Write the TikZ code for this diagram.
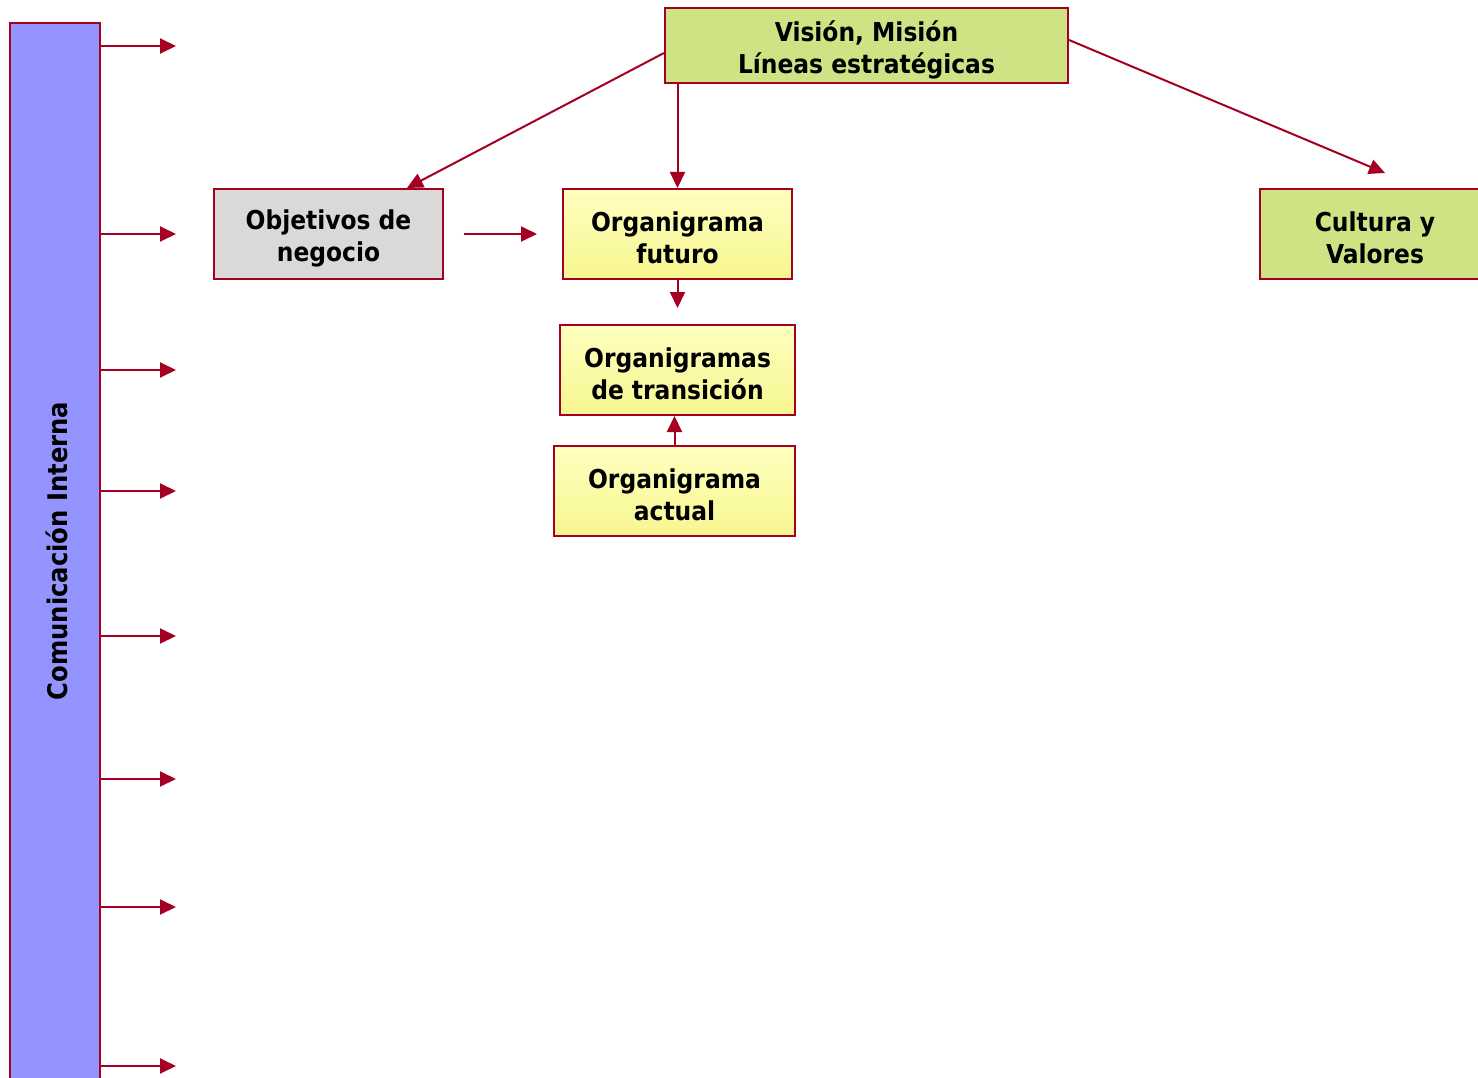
\documentclass[tikz,border=0pt]{standalone}
\usepackage{fontspec}
\setmainfont{DejaVu Sans Condensed}[BoldFont={DejaVu Sans Condensed Bold}]
\usetikzlibrary{arrows.meta,calc}
\definecolor{edge}{HTML}{A50021}
\definecolor{leaf}{HTML}{CDE384}
\definecolor{stone}{HTML}{D9D9D9}
\definecolor{lilac}{HTML}{9494FF}
\definecolor{paleY}{HTML}{FFFFC0}
\definecolor{deepY}{HTML}{F6F690}
\tikzset{
  caption/.style={align=center, inner sep=0pt, text=black,
    font=\fontsize{26}{32}\selectfont\bfseries},
  box/.style={draw=edge, line width=2pt, rectangle, inner sep=0pt,
    label={[caption, yshift=-4pt]center:#1}},
  greenbox/.style={box={#1}, fill=leaf},
  greybox/.style={box={#1}, fill=stone},
  yellowbox/.style={box={#1}, top color=paleY, bottom color=deepY},
  arr/.style={draw=edge, line width=2pt, -{Triangle[length=16pt,width=15pt]}},
}
\begin{document}
\begin{tikzpicture}[x=1pt,y=-1pt]
\useasboundingbox (0,0) rectangle (1478,1078);

% side bar
\node[draw=edge, line width=2pt, fill=lilac, minimum width=90pt, minimum height=1077pt,
  inner sep=0pt] (bar) at (55,561.5) {};
\node[rotate=90, caption, font=\fontsize{27}{30}\selectfont\bfseries] (barlabel) at (57,551) {Comunicación Interna};

% boxes
\node[greenbox={Visión, Misión\\Líneas estratégicas}, minimum width=403pt, minimum height=75pt]
  (vision) at (866.5,45.5) {};
\node[greybox={Objetivos de\\negocio}, minimum width=229pt, minimum height=90pt]
  (obj) at (328.5,234) {};
\node[yellowbox={Organigrama\\futuro}, minimum width=229pt, minimum height=90pt]
  (fut) at (677.5,234) {};
\node[yellowbox={Organigramas\\de transición}, minimum width=235pt, minimum height=90pt]
  (trans) at (677.5,370) {};
\node[yellowbox={Organigrama\\actual}, minimum width=241pt, minimum height=90pt]
  (act) at (674.5,491) {};
\node[greenbox={Cultura y\\Valores}, minimum width=230pt, minimum height=90pt]
  (cult) at (1375,234) {};

% arrows leaving the side bar
\foreach \i/\yy in {1/46,2/234,3/370,4/491,5/636,6/779,7/907,8/1066}{
  \coordinate (tip\i) at (176,\yy);
  \draw[arr] (bar.east |- tip\i) -- (tip\i);
}

% connectors between boxes
\draw[arr] ($(vision.west)+(0,7.5)$) -- ($(obj.north)+(78.5,0)$);
\draw[arr] (fut.north |- vision.south) -- (fut.north);
\draw[arr] ($(vision.east)+(0,-5.5)$) -- ($(cult.north)+(10,-15)$);
\draw[arr] ($(obj.east)+(19.5,0)$) -- ($(fut.west)+(-25,0)$);
\draw[arr] (fut.south) -- ($(trans.north)+(0,-16)$);
\draw[arr] (act.north) -- (act.north |- trans.south);
\end{tikzpicture}
\end{document}
